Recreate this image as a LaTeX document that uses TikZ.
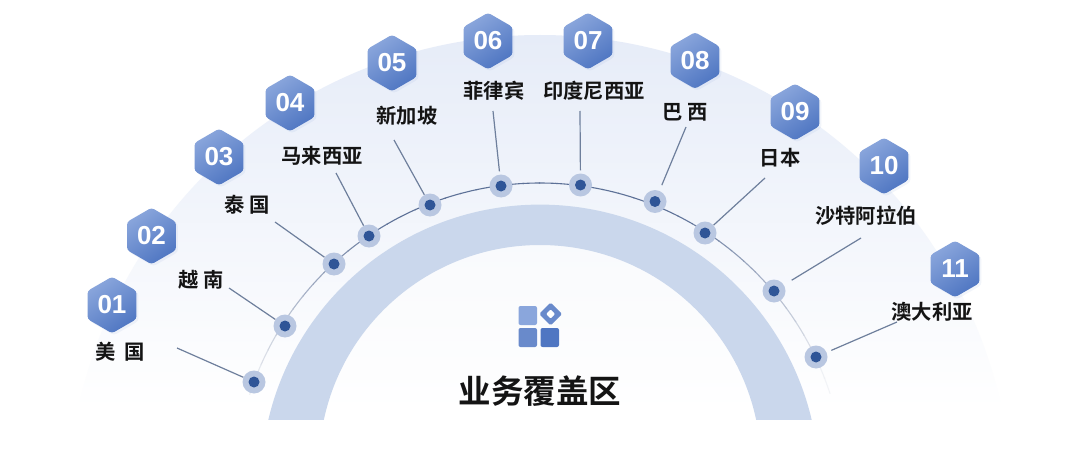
\documentclass[tikz,border=0pt]{standalone}
\usepackage{fontspec}
\usepackage{xcolor}
\usetikzlibrary{shapes.geometric,shadows}
\setmainfont{Liberation Sans}
\newfontfamily\cjk{Noto Sans CJK SC}[BoldFont={Noto Sans CJK SC Bold}]
\definecolor{bgtop}{HTML}{E6ECF8}
\definecolor{band}{HTML}{CAD7EC}
\definecolor{halo}{HTML}{B9C7E1}
\definecolor{core}{HTML}{2F5597}
\definecolor{pincol}{HTML}{6E7F9C}
\definecolor{curve}{HTML}{5D7197}
\definecolor{hextop}{HTML}{8AA6DC}
\definecolor{hexbot}{HTML}{4F76C2}
\definecolor{inktext}{HTML}{141414}
\tikzset{
    hexnode/.style={regular polygon,regular polygon sides=6,shape border rotate=30,minimum size=56.5pt,inner sep=0pt,
        rounded corners=3pt,top color=hextop,bottom color=hexbot,shading angle=35,
        drop shadow={shadow xshift=2pt,shadow yshift=-2pt,opacity=0.07,fill=hexbot},
        text=white,font=\fontsize{26}{26}\selectfont\bfseries},
    labnode/.style={font=\cjk\fontsize{20.3}{21}\selectfont\bfseries,text=inktext,inner sep=0pt},
    halonode/.style={circle,fill=halo,minimum size=23pt,inner sep=0pt},
    corenode/.style={circle,fill=core,minimum size=11pt,inner sep=0pt},
    pinline/.style={draw=pincol,line width=1.2pt}
}
\begin{document}
\begin{tikzpicture}[x=1pt,y=1pt]
    \useasboundingbox (0,0) rectangle (1080,459);
    \fill[white] (0,0) rectangle (1080,459);

    % big fading dome
    \begin{scope}
        \clip (540,-48) circle (472);
        \shade[top color=bgtop,bottom color=white] (0,50) rectangle (1080,424);
    \end{scope}
    \begin{scope}
        \clip (0,40) rectangle (1080,459);
        \fill[white,opacity=0.45] (540,-7) circle (221);
    \end{scope}

    % thick band
    \begin{scope}
        \clip (0,40) rectangle (1080,459);
        \fill[band,even odd rule] (540,-24.6) circle (279) (540,-7) circle (221);
    \end{scope}

    % thin arc, fading to both ends
    \foreach \a in {18,21,...,159}{
            \pgfmathsetmacro{\mix}{max(8,min(100,100-(abs(\a-90)-28)*2.2))}
            \draw[curve!\mix!white,line width=1.1pt] (540,-29) ++(\a:305) arc[start angle=\a,end angle=\a+3.2,radius=305];
        }

    % icon
    \fill[hextop,rounded corners=2pt] (518.5,134) rectangle (537,153);
    \fill[hexbot!85!white,rounded corners=2pt] (518.5,112) rectangle (537,131);
    \fill[hexbot,rounded corners=2pt] (540.5,112) rectangle (559,131);
    \fill[hexbot!85!white,rounded corners=1.5pt] (550.7,133.5) -- (562.2,145) -- (550.7,156.5) -- (539.2,145) -- cycle;
    \fill[white,rounded corners=1pt] (550.7,140.5) -- (555.2,145) -- (550.7,149.5) -- (546.2,145) -- cycle;

    % countries
    \foreach \n/\hexp/\labp/\dotp/\pinp/\gap/\txt in {%
        01/{112,154}/{120,107}/{254,77}/{177,111}/0/{美\ \ 国},
        02/{151.5,223}/{201,179}/{285,133}/{229,171}/0/{越 南},
        03/{219,302}/{247,254}/{334,195}/{275,237}/0/{泰 国},
        04/{290,356}/{322,303}/{369,223}/{336,286}/0/{马来西亚},
        05/{392,396}/{407,343}/{430,254}/{394,319}/0/{新加坡},
        06/{488,418}/{494,368}/{501,273}/{493,348}/3/{菲律宾},
        07/{588,418}/{594,368}/{580.5,274}/{580,348}/3/{印度尼西亚},
        08/{695,398.5}/{685,347}/{655,257.5}/{686,332}/6/{巴 西},
        09/{795,347}/{780,301}/{705,226}/{765,281}/0/{日本},
        10/{884,293}/{866,243}/{774,168}/{861,221}/9/{沙特阿拉伯},
        11/{955,190}/{932,147}/{816,102}/{897,137}/5/{澳大利亚}}{
            \node[halonode] (dot\n) at (\dotp) {};
            \coordinate (pin\n) at (\pinp);
            \draw[pinline,shorten >=\gap pt] (pin\n) -- (dot\n);
            \node[corenode] (core\n) at (\dotp) {};
            \node[hexnode] (hex\n) at (\hexp) {\n};
            \node[labnode] (lab\n) at (\labp) {\txt};
        }

    % title
    \node[font=\cjk\fontsize{32.5}{33}\selectfont\bfseries,text=inktext,inner sep=0pt] (title) at (540,68) {业务覆盖区};
\end{tikzpicture}
\end{document}
